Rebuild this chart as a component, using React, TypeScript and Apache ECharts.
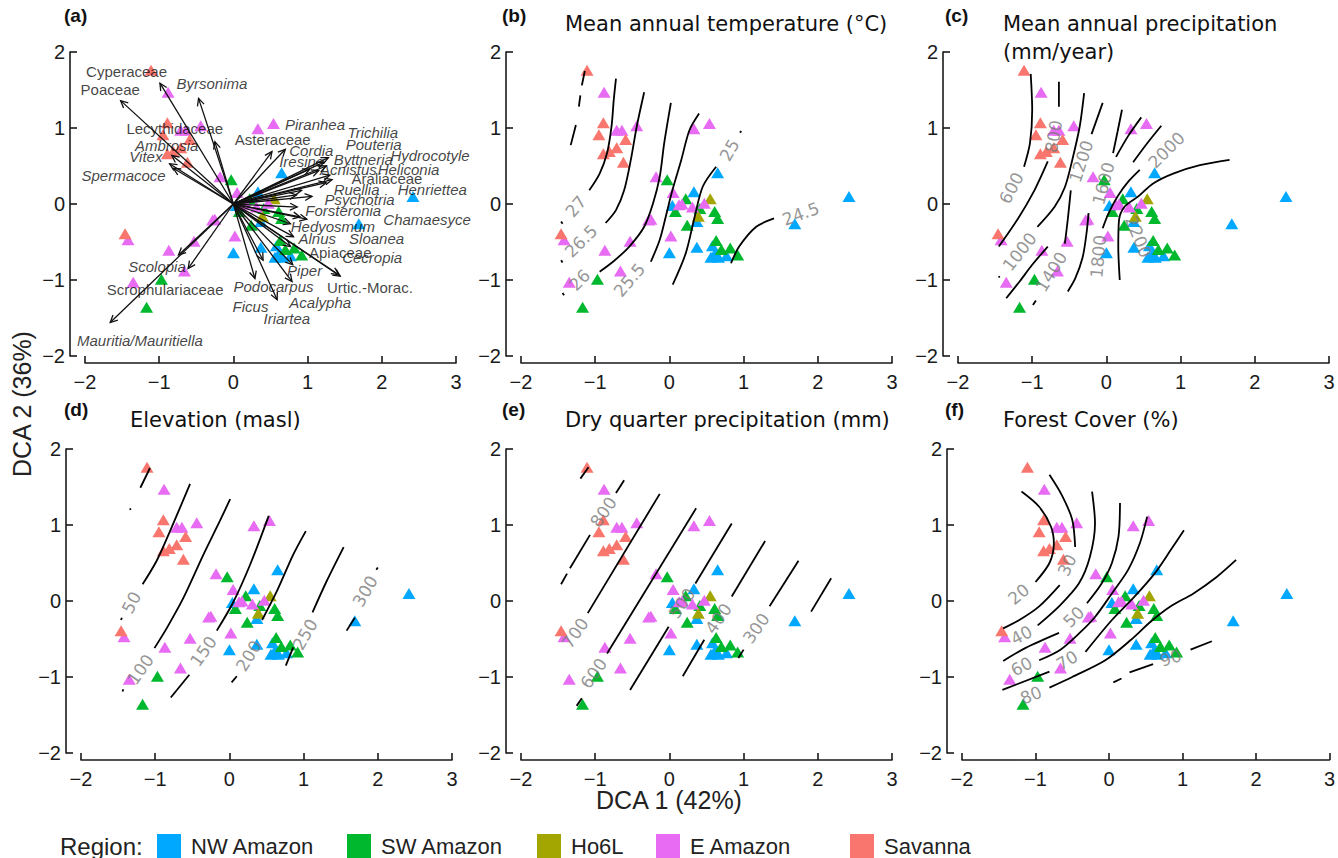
import React, { useEffect, useRef } from 'react';
import * as echarts from 'echarts';

const regions = ['NW Amazon', 'SW Amazon', 'Ho6L', 'E Amazon', 'Savanna'];
const regionColors = ['#00A9FF', '#00B82E', '#A3A500', '#E76BF3', '#F8766D'];

const nwAmazon = [[0.65, 0.41], [0.33, 0.16], [0.04, -0.02], [0.37, -0.23], [0.0, -0.64], [0.37, -0.57], [0.58, -0.55], [0.56, -0.70], [0.66, -0.70], [0.77, -0.68], [0.62, -0.64], [1.69, -0.26], [2.42, 0.10]];
const swAmazon = [[-0.03, 0.32], [0.22, 0.07], [0.08, -0.10], [0.24, -0.28], [0.41, -0.06], [0.61, -0.10], [0.65, -0.19], [0.63, -0.48], [0.70, -0.60], [0.82, -0.58], [0.92, -0.67], [-0.97, -0.99], [-1.17, -1.36]];
const ho6l = [[0.55, 0.07], [0.39, -0.16]];
const eAmazon = [[-0.88, 1.47], [-0.71, 0.97], [-0.64, 0.97], [-0.44, 1.03], [0.33, 0.99], [0.54, 1.06], [-0.18, 0.36], [0.05, 0.15], [0.13, -0.01], [0.17, 0.0], [0.31, -0.04], [0.47, 0.01], [-0.25, -0.20], [-0.28, -0.21], [0.02, -0.42], [-0.53, -0.49], [-0.87, -0.61], [-1.42, -0.47], [-0.66, -0.88], [-1.35, -1.03]];
const savanna = [[-1.11, 1.76], [-0.89, 1.07], [-0.95, 0.91], [-0.59, 0.85], [-0.71, 0.74], [-0.81, 0.69], [-0.89, 0.66], [-0.62, 0.55], [-1.46, -0.39]];

// panel (a): species arrows (tips) and labels
const arrowTips = [
  [-1.52, 1.36], [-0.99, 1.59], [-0.47, 1.39], [-0.25, 0.82], [-0.83, 0.64], [-0.86, 0.53], [-0.81, 0.47],
  [0.52, 0.69], [0.70, 0.72], [1.03, 0.46], [1.28, 0.61], [1.22, 0.55], [1.25, 0.50], [1.15, 0.44], [1.30, 0.38], [1.33, 0.32], [1.25, 0.28],
  [1.06, 0.10], [0.92, 0.18], [0.86, -0.04], [0.90, -0.17], [0.77, -0.26], [0.81, -0.43], [0.77, -0.56], [0.99, -0.20], [0.85, 0.12],
  [1.44, -0.95], [1.42, -0.93], [0.80, -0.80], [0.79, -1.02], [0.59, -1.26], [0.40, -0.74], [0.29, -0.98],
  [-0.74, -0.67], [-0.61, -0.85], [-1.66, -1.56]
];
const speciesLabels: [string, number, number, boolean][] = [
  ['Cyperaceae', -1.44, 1.75, false], ['Poaceae', -1.66, 1.51, false], ['Byrsonima', -0.29, 1.59, true],
  ['Lecythidaceae', -0.79, 1.0, false], ['Ambrosia', -0.90, 0.77, true], ['Vitex', -1.18, 0.63, true],
  ['Spermacoce', -1.48, 0.37, true], ['Piranhea', 1.10, 1.05, true], ['Asteraceae', 0.53, 0.85, false],
  ['Trichilia', 1.88, 0.94, true], ['Pouteria', 1.89, 0.78, true], ['Cordia', 1.05, 0.70, true],
  ['Hydrocotyle', 2.65, 0.64, true], ['Iresine', 0.92, 0.565, true], ['Byttneria', 1.75, 0.58, true],
  ['Acnistus', 1.55, 0.45, true], ['Heliconia', 2.36, 0.46, true], ['Araliaceae', 2.07, 0.33, false],
  ['Ruellia', 1.66, 0.19, true], ['Henriettea', 2.68, 0.19, true], ['Psychotria', 1.70, 0.06, true],
  ['Forsteronia', 1.48, -0.08, true], ['Chamaesyce', 2.61, -0.20, true], ['Hedyosmum', 1.34, -0.29, true],
  ['Alnus', 1.13, -0.46, true], ['Sloanea', 1.93, -0.46, true], ['Apiaceae', 1.44, -0.64, false],
  ['Cecropia', 1.87, -0.71, true], ['Urtic.-Morac.', 1.84, -1.10, false], ['Piper', 0.96, -0.88, true],
  ['Scolopia', -1.03, -0.82, true], ['Scrophulariaceae', -0.92, -1.13, false], ['Podocarpus', 0.54, -1.09, true],
  ['Acalypha', 1.17, -1.30, true], ['Ficus', 0.23, -1.35, true], ['Iriartea', 0.72, -1.50, true],
  ['Mauritia/Mauritiella', -1.26, -1.80, true]
];

// contour lines [x, y] and labels [text, x, y, rotation]
const tempLines = [
  [[-1.33, 0.775], [-1.26, 1.04]], [[-1.22, 1.28], [-1.20, 1.43]], [[-1.18, 1.56], [-1.14, 1.75]],
  [[-1.08, 0.18], [-0.94, 0.40], [-0.84, 0.67], [-0.78, 1.02], [-0.75, 1.37], [-0.72, 1.65]],
  [[-0.86, -0.25], [-0.72, -0.08], [-0.61, 0.18], [-0.52, 0.58], [-0.44, 1.02], [-0.34, 1.47]],
  [[-0.94, -0.89], [-0.76, -0.76], [-0.54, -0.56], [-0.34, -0.30], [-0.22, 0.01], [-0.13, 0.36], [-0.07, 0.80], [0.02, 1.33]],
  [[-0.25, -0.76], [-0.13, -0.47], [-0.05, -0.17], [0.04, 0.18], [0.16, 0.58], [0.27, 0.97], [0.40, 1.19]],
  [[0.045, -1.06], [0.22, -0.65], [0.34, -0.17], [0.45, 0.23], [0.63, 0.49]],
  [[0.83, -0.78], [0.94, -0.56], [1.17, -0.30], [1.41, -0.19]],
  [[-1.46, -0.23], [-1.44, -0.26]], [[-1.46, -0.74], [-1.44, -0.77]], [[-1.44, -1.17], [-1.42, -1.20]], [[0.95, 0.94], [0.97, 0.96]]
];
const tempLabels: [string, number, number, number][] = [
  ['27', -1.26, -0.03, 50], ['26.5', -1.19, -0.49, 45], ['26', -1.21, -1.0, 45],
  ['25.5', -0.54, -1.0, 50], ['25', 0.81, 0.71, 60], ['24.5', 1.77, -0.13, 20]
];
const precipLines = [
  [[-1.02, 1.71], [-1.0, 1.24], [-1.03, 0.80], [-1.11, 0.49]],
  [[-0.64, 1.61], [-0.64, 1.28]],
  [[-0.79, 0.56], [-0.97, 0.18], [-1.19, -0.19], [-1.45, -0.56]],
  [[-0.30, 1.46], [-0.36, 1.02], [-0.46, 0.58], [-0.56, 0.22], [-0.70, -0.04], [-0.93, -0.30]],
  [[-0.05, 1.33], [-0.20, 0.92]],
  [[-0.48, 0.18], [-0.52, -0.2], [-0.56, -0.52]],
  [[-0.79, -0.56], [-1.0, -0.8], [-1.17, -1.02], [-1.35, -1.24]],
  [[0.21, 1.24], [0.15, 0.95], [0.09, 0.67]],
  [[0.47, 1.14], [0.29, 0.89], [0.13, 0.62]],
  [[0.74, 1.03], [0.55, 0.80], [0.36, 0.55]],
  [[0.45, 0.45], [0.30, 0.30], [0.15, 0.10], [0.03, -0.12], [-0.05, -0.32]],
  [[-0.24, -0.12], [-0.27, -0.4], [-0.32, -0.7], [-0.42, -0.98], [-0.52, -1.15]],
  [[1.66, 0.58], [1.26, 0.51], [0.90, 0.40], [0.63, 0.27], [0.43, 0.10], [0.25, -0.03], [0.17, -0.21], [0.16, -0.56], [0.18, -1.0]],
  [[-0.95, -1.27], [-0.99, -1.33]],
  [[-1.45, -0.95], [-1.44, -0.97]]
];
const precipLabels: [string, number, number, number][] = [
  ['600', -1.28, 0.21, 62], ['800', -0.71, 0.89, 80], ['1000', -1.17, -0.63, 52], ['1200', -0.34, 0.56, 72],
  ['1400', -0.74, -0.89, 58], ['1600', -0.04, 0.27, 75], ['1800', -0.11, -0.69, 85], ['2000', 0.81, 0.71, 45],
  ['2200', 0.43, -0.43, -68]
];
const elevLines = [
  [[-1.20, 1.49], [-1.07, 1.75]], [[-1.34, 1.22], [-1.33, 1.20]],
  [[-1.17, 0.22], [-0.98, 0.53], [-0.80, 0.92], [-0.53, 1.54]],
  [[-1.01, -0.62], [-0.84, -0.35], [-0.62, 0.04], [-0.35, 0.61], [-0.13, 1.05], [0.01, 1.34]],
  [[-0.17, -0.39], [0.05, -0.02], [0.28, 0.48], [0.53, 1.12]], [[-0.54, -0.97], [-0.79, -1.27]],
  [[0.44, -0.25], [0.64, 0.13], [0.86, 0.61], [1.03, 0.92]], [[0.10, -0.99], [0.03, -1.07]],
  [[1.12, -0.15], [1.31, 0.26], [1.54, 0.71]], [[0.86, -0.61], [0.76, -0.85]],
  [[1.69, -0.22], [1.58, -0.39]], [[2.0, 0.44], [1.98, 0.41]],
  [[-1.45, -0.22], [-1.46, -0.25]], [[-1.43, -1.16], [-1.44, -1.19]]
];
const elevLabels: [string, number, number, number][] = [
  ['50', -1.32, -0.02, 62], ['100', -1.20, -0.90, 55], ['150', -0.35, -0.66, 55],
  ['200', 0.26, -0.72, 58], ['250', 1.02, -0.44, 60], ['300', 1.83, 0.13, 60]
];
const dryLines = [
  [[-1.09, 1.76], [-1.20, 1.61]], [[-0.61, 1.59], [-0.72, 1.42]], [[-1.07, 0.87], [-1.34, 0.43]], [[-1.38, 0.36], [-1.46, 0.22]],
  [[-0.13, 1.41], [-1.10, -0.16]], [[0.36, 1.22], [-0.84, -0.69]], [[-1.18, -1.28], [-1.25, -1.38]],
  [[0.84, 1.02], [0.35, 0.23]], [[-0.01, -0.34], [-0.53, -1.17]],
  [[1.29, 0.79], [0.84, 0.06]], [[0.47, -0.51], [0.18, -0.99]],
  [[1.74, 0.53], [1.35, -0.07]], [[1.0, -0.64], [0.93, -0.75]],
  [[2.18, 0.30], [1.91, -0.14]]
];
const dryLabels: [string, number, number, number][] = [
  ['800', -0.89, 1.17, 55], ['700', -1.27, -0.42, 55], ['600', -1.02, -0.95, 55],
  ['500', 0.17, -0.03, 55], ['400', 0.66, -0.23, 55], ['300', 1.17, -0.36, 55]
];
const forestLines = [
  [[-1.19, 1.44], [-0.95, 1.24], [-0.79, 0.98], [-0.75, 0.76], [-0.81, 0.50], [-1.0, 0.25]],
  [[-0.81, 1.66], [-0.64, 1.39], [-0.50, 1.07], [-0.46, 0.71]],
  [[-0.67, 0.21], [-0.95, -0.07], [-1.22, -0.25], [-1.44, -0.36]],
  [[-0.23, 1.44], [-0.19, 1.02], [-0.26, 0.58], [-0.41, 0.23], [-0.68, -0.07], [-0.97, -0.32]],
  [[0.15, 1.29], [0.13, 0.85], [0.04, 0.50], [-0.10, 0.23], [-0.30, -0.03]],
  [[-0.68, -0.42], [-1.14, -0.62], [-1.44, -0.79]],
  [[0.52, 1.11], [0.42, 0.76], [0.26, 0.41], [0.04, 0.10], [-0.19, -0.21], [-0.41, -0.43], [-0.66, -0.64], [-0.95, -0.78]],
  [[1.02, 0.93], [0.84, 0.67], [0.62, 0.36], [0.35, 0.06], [0.04, -0.25], [-0.32, -0.67]],
  [[-0.81, -0.93], [-1.45, -1.17]],
  [[1.73, 0.54], [1.47, 0.32], [1.15, 0.10], [0.84, -0.07], [0.57, -0.27], [0.30, -0.51], [-0.05, -0.78], [-0.50, -1.0], [-0.81, -1.14]],
  [[1.40, -0.53], [1.11, -0.64]], [[0.60, -0.83], [0.28, -0.94]], [[0.17, -1.02], [0.06, -1.07]]
];
const forestLabels: [string, number, number, number][] = [
  ['20', -1.23, 0.09, 40], ['30', -0.57, 0.47, 65], ['40', -1.19, -0.45, 28], ['50', -0.48, -0.21, 45],
  ['60', -1.19, -0.86, 28], ['70', -0.57, -0.78, 30], ['80', -1.06, -1.24, 22], ['90', 0.84, -0.75, 18]
];

const panelLetters = ['(a)', '(b)', '(c)', '(d)', '(e)', '(f)'];
const panelTitles = ['', 'Mean annual temperature (°C)', 'Mean annual precipitation\n(mm/year)', 'Elevation (masl)', 'Dry quarter precipitation (mm)', 'Forest Cover (%)'];

const GRIDS = [
  { left: 85, top: 52 }, { left: 521, top: 52 }, { left: 958, top: 52 },
  { left: 81, top: 449 }, { left: 521, top: 449 }, { left: 962, top: 449 }
];
const LETTER_POS = [[64, 6], [502, 6], [945, 6], [64, 400], [502, 400], [945, 400]];
const TITLE_POS = [[0, 0], [565, 10], [1003, 10], [130, 406], [565, 406], [1003, 406]];
const LEGEND_X = [152, 342, 532, 651, 845];

const fmt = (v: number) => (v < 0 ? '\u2212' + Math.abs(v) : String(v));

export default function App() {
  const ref = useRef<HTMLDivElement>(null);
  useEffect(() => {
    if (!ref.current) return;
    const chart = echarts.init(ref.current, null, { renderer: 'svg' });
    const axisColor = '#1a1a1a';
    const regionData = [nwAmazon, swAmazon, ho6l, eAmazon, savanna];
    const series: any[] = [];
    GRIDS.forEach((_, g) => {
      regionData.forEach((d, r) => {
        series.push({
          type: 'scatter', name: regions[r], xAxisIndex: g, yAxisIndex: g, data: d,
          symbol: 'triangle', symbolSize: [13, 11], itemStyle: { color: regionColors[r], opacity: 1 },
          z: 2, clip: false, silent: true
        });
      });
    });
    const contourSets = [null, [tempLines, tempLabels], [precipLines, precipLabels], [elevLines, elevLabels], [dryLines, dryLabels], [forestLines, forestLabels]];
    contourSets.forEach((set: any, g) => {
      if (!set) return;
      const [lines, labels] = set;
      lines.forEach((ln: number[][]) => {
        series.push({
          type: 'line', xAxisIndex: g, yAxisIndex: g, data: ln, smooth: 0.3, showSymbol: false, symbol: 'none',
          lineStyle: { color: '#000', width: 1.8 }, z: 3, silent: true, clip: false
        });
      });
      series.push({
        type: 'scatter', xAxisIndex: g, yAxisIndex: g, symbolSize: 1, itemStyle: { color: 'rgba(0,0,0,0)' },
        z: 4, silent: true, clip: false,
        data: labels.map((l: any) => ({ name: l[0], value: [l[1], l[2]], label: { rotate: l[3] } })),
        label: { show: true, position: 'inside', formatter: '{b}', fontSize: 17, color: '#7a7a7a', fontFamily: 'DejaVu Sans' }
      });
    });
    series.push({
      type: 'custom', xAxisIndex: 0, yAxisIndex: 0, data: arrowTips, z: 3, silent: true,
      renderItem: (params: any, api: any) => {
        const p0 = api.coord([0, 0]);
        const p1 = api.coord([api.value(0), api.value(1)]);
        const ang = Math.atan2(p1[1] - p0[1], p1[0] - p0[0]);
        const L = 8, phi = Math.PI / 7;
        const h1 = [p1[0] - L * Math.cos(ang - phi), p1[1] - L * Math.sin(ang - phi)];
        const h2 = [p1[0] - L * Math.cos(ang + phi), p1[1] - L * Math.sin(ang + phi)];
        return {
          type: 'group', children: [
            { type: 'line', shape: { x1: p0[0], y1: p0[1], x2: p1[0], y2: p1[1] }, style: { stroke: '#111', lineWidth: 1.3 } },
            { type: 'polyline', shape: { points: [h1, p1, h2] }, style: { stroke: '#111', fill: null, lineWidth: 1.3 } }
          ]
        };
      }
    });
    series.push({
      type: 'scatter', xAxisIndex: 0, yAxisIndex: 0, symbolSize: 1, itemStyle: { color: 'rgba(0,0,0,0)' },
      z: 5, silent: true, clip: false,
      data: speciesLabels.map((s) => ({ name: s[0], value: [s[1], s[2]], label: { fontStyle: s[3] ? 'italic' : 'normal' } })),
      label: { show: true, position: 'inside', formatter: '{b}', fontSize: 15, color: '#111', fontFamily: 'Liberation Sans' }
    });

    const titles: any[] = [];
    panelLetters.forEach((t, i) => {
      titles.push({ text: t, left: LETTER_POS[i][0], top: LETTER_POS[i][1], padding: 0, textStyle: { fontSize: 19, fontWeight: 'bold', color: '#111', fontFamily: 'Liberation Sans' } });
      if (panelTitles[i]) {
        titles.push({ text: panelTitles[i], left: TITLE_POS[i][0], top: TITLE_POS[i][1], padding: 0, textStyle: { fontSize: 21, fontWeight: 'normal', color: '#111', fontFamily: 'DejaVu Sans', lineHeight: 28 } });
      }
    });

    const option: any = {
      animation: false,
      title: titles,
      grid: GRIDS.map((g) => ({ left: g.left, top: g.top, width: 371, height: 304 })),
      xAxis: GRIDS.map((_, i) => ({
        gridIndex: i, type: 'value', min: -2, max: 3, interval: 1, offset: 7,
        axisLine: { show: true, onZero: false, lineStyle: { color: axisColor, width: 1.6 } },
        axisTick: { show: true, inside: true, length: 7, lineStyle: { color: axisColor, width: 1.6 } },
        axisLabel: { fontSize: 20, color: axisColor, fontFamily: 'Liberation Sans', margin: 9, formatter: fmt, showMinLabel: true, showMaxLabel: true },
        splitLine: { show: false }
      })),
      yAxis: GRIDS.map((_, i) => ({
        gridIndex: i, type: 'value', min: -2, max: 2, interval: 1, offset: 15,
        axisLine: { show: true, onZero: false, lineStyle: { color: axisColor, width: 1.6 } },
        axisTick: { show: true, inside: true, length: 7, lineStyle: { color: axisColor, width: 1.6 } },
        axisLabel: { fontSize: 20, color: axisColor, fontFamily: 'Liberation Sans', margin: 5, formatter: fmt, showMinLabel: true, showMaxLabel: true },
        splitLine: { show: false }
      })),
      legend: regions.map((r, i) => ({
        data: [r], left: LEGEND_X[i], top: 829, icon: 'rect', itemWidth: 24, itemHeight: 24,
        selectedMode: false, itemStyle: { opacity: 1 },
        textStyle: { fontSize: 22, color: '#222', fontFamily: 'Liberation Sans', padding: [0, 0, 0, 5] }
      })),
      graphic: [
        { type: 'text', x: 22, y: 404, rotation: Math.PI / 2, style: { text: 'DCA 2 (36%)', font: '25px "Liberation Sans"', fill: '#222', align: 'center', verticalAlign: 'middle' } },
        { type: 'text', x: 669, y: 800, style: { text: 'DCA 1 (42%)', font: '25px "Liberation Sans"', fill: '#222', align: 'center', verticalAlign: 'middle' } },
        { type: 'text', x: 60, y: 846, style: { text: 'Region:', font: '24px "Liberation Sans"', fill: '#222', align: 'left', verticalAlign: 'middle' } }
      ],
      series
    };
    chart.setOption(option);
    return () => chart.dispose();
  }, []);
  return <div ref={ref} style={{ position: 'absolute', left: 0, top: 0, width: 1338, height: 858 }} />;
}
